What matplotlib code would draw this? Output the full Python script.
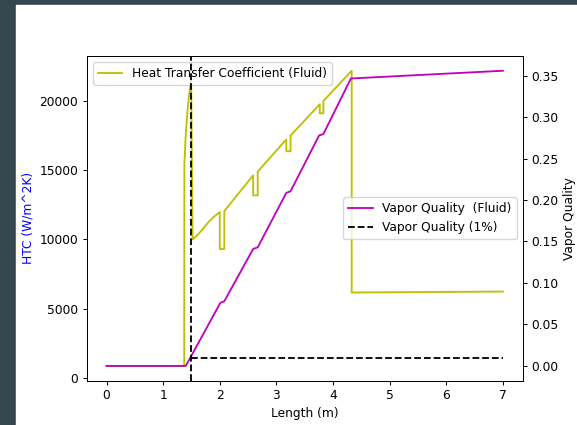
import matplotlib
matplotlib.use("Agg")
from matplotlib import pyplot as plt
from matplotlib.patches import Rectangle

# heat transfer coefficient along the pipe (W/m^2K)
htc_x = [0.0, 1.372, 1.375, 1.40, 1.43, 1.46, 1.495, 1.52,
         1.6, 1.7, 1.8, 1.9, 2.0, 2.0, 2.08, 2.08,
         2.59, 2.59, 2.67, 2.67,
         3.175, 3.175, 3.25, 3.25,
         3.766, 3.766, 3.83, 3.83,
         4.33, 4.33, 7.0]
htc = [870, 870, 15500, 17600, 19300, 20500, 21500, 10000,
       10300, 10750, 11250, 11650, 11975, 9310, 9310, 12050,
       14630, 13180, 13180, 14900,
       17220, 16370, 16370, 17500,
       19760, 19110, 19110, 20000,
       22180, 6170, 6240]

# vapor quality along the pipe
vq_x = [0.0, 1.40, 2.01, 2.08, 2.59, 2.67, 3.175, 3.25, 3.754, 3.83, 4.316, 7.0]
vq = [0.0, 0.0, 0.076, 0.078, 0.141, 0.143, 0.2086, 0.2105, 0.2778, 0.2795, 0.3465, 0.3558]

limit_x = [1.5, 7.0]
limit_q = [0.01, 0.01]

s = 0.879
plt.rcParams.update({
    'font.size': 10 * s,
    'lines.linewidth': 1.5 * s,
    'axes.linewidth': 0.8 * s,
    'xtick.major.size': 3.5 * s,
    'ytick.major.size': 3.5 * s,
    'xtick.major.width': 0.8 * s,
    'ytick.major.width': 0.8 * s,
    'xtick.major.pad': 3.5 * s,
    'ytick.major.pad': 3.5 * s,
    'axes.labelpad': 4.0 * s,
})

fig = plt.figure(figsize=(5.77, 4.25), dpi=100, facecolor='#37474f')
fig.add_artist(Rectangle((16 / 577, 0), 1, 420 / 425, transform=fig.transFigure,
                         color='white', zorder=-5))

ax1 = fig.add_axes([86.7 / 577, 44.3 / 425, 436 / 577, 324.7 / 425])
ax1.plot(htc_x, htc, 'y', label='Heat Transfer Coefficient (Fluid)')
ax1.set_xlabel('Length (m)')
ax1.set_ylabel('HTC (W/m^2K)', color='b')
ax1.legend(loc='upper left')

ax2 = ax1.twinx()
ax2.plot(vq_x, vq, 'm', label='Vapor Quality  (Fluid)')
ax2.plot(limit_x, limit_q, 'k--', label='Vapor Quality (1%)')
ax2.axvline(limit_x[0], color='k', linestyle='--')
ax2.set_ylabel('Vapor Quality')
ax2.legend(loc='center right')

fig.savefig('out.png', dpi=100, facecolor=fig.get_facecolor())
